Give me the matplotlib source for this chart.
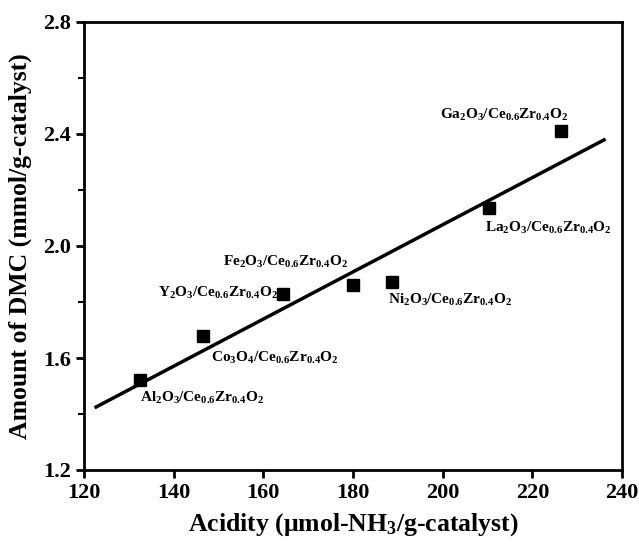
import numpy as np
import matplotlib.pyplot as plt
from matplotlib.ticker import MultipleLocator

plt.rcParams['font.family'] = 'Liberation Serif'
plt.rcParams['font.weight'] = 'bold'
plt.rcParams['mathtext.fontset'] = 'custom'
plt.rcParams['mathtext.rm'] = 'Liberation Serif:bold'
plt.rcParams['mathtext.default'] = 'regular'

# acidity (umol NH3/g) and DMC yield (mmol/g)
acidity = [132.5, 146.5, 164.4, 180.0, 188.7, 210.3, 226.4]
dmc = [1.52, 1.68, 1.83, 1.86, 1.87, 2.135, 2.41]

# linear fit line end points
fit_x = [122.7, 236.0]
fit_y = [1.425, 2.379]

labels = ['Al$_2$O$_3$/Ce$_{0.6}$Zr$_{0.4}$O$_2$',
          'Co$_3$O$_4$/Ce$_{0.6}$Zr$_{0.4}$O$_2$',
          'Y$_2$O$_3$/Ce$_{0.6}$Zr$_{0.4}$O$_2$',
          'Fe$_2$O$_3$/Ce$_{0.6}$Zr$_{0.4}$O$_2$',
          'Ni$_2$O$_3$/Ce$_{0.6}$Zr$_{0.4}$O$_2$',
          'La$_2$O$_3$/Ce$_{0.6}$Zr$_{0.4}$O$_2$',
          'Ga$_2$O$_3$/Ce$_{0.6}$Zr$_{0.4}$O$_2$']
label_x = [146.3, 162.6, 149.9, 165.0, 201.7, 223.5, 213.7]
label_y = [1.457, 1.600, 1.832, 1.943, 1.807, 2.064, 2.468]

fig = plt.figure(figsize=(6.39, 5.44), dpi=100)
ax = fig.add_axes([84 / 639, 74 / 544, 538 / 639, 448 / 544])

ax.plot(fit_x, fit_y, color='black', lw=2.5)
ax.plot(acidity, dmc, 's', color='black', ms=8.5)

for t, lx, ly in zip(labels, label_x, label_y):
    ax.text(lx, ly, t, fontsize=11, fontweight='bold', ha='center', va='center')

ax.set_xlim(120, 240)
ax.set_ylim(1.2, 2.8)
ax.xaxis.set_major_locator(MultipleLocator(20))
ax.yaxis.set_major_locator(MultipleLocator(0.4))
ax.yaxis.set_minor_locator(MultipleLocator(0.2))
ax.yaxis.set_major_formatter(plt.FuncFormatter(lambda v, p: f'{v:.1f}'))

for s in ax.spines.values():
    s.set_linewidth(2)
ax.tick_params(which='major', direction='out', length=6, width=2, labelsize=16)
ax.tick_params(which='minor', direction='out', length=4, width=1.5)

ax.set_xlabel('Acidity (μmol-NH$_3$/g-catalyst)', fontsize=18.5, fontweight='bold', labelpad=6)
ax.set_ylabel('Amount of DMC (mmol/g-catalyst)', fontsize=18.5, fontweight='bold', labelpad=8)

fig.savefig('out.png', dpi=100)
